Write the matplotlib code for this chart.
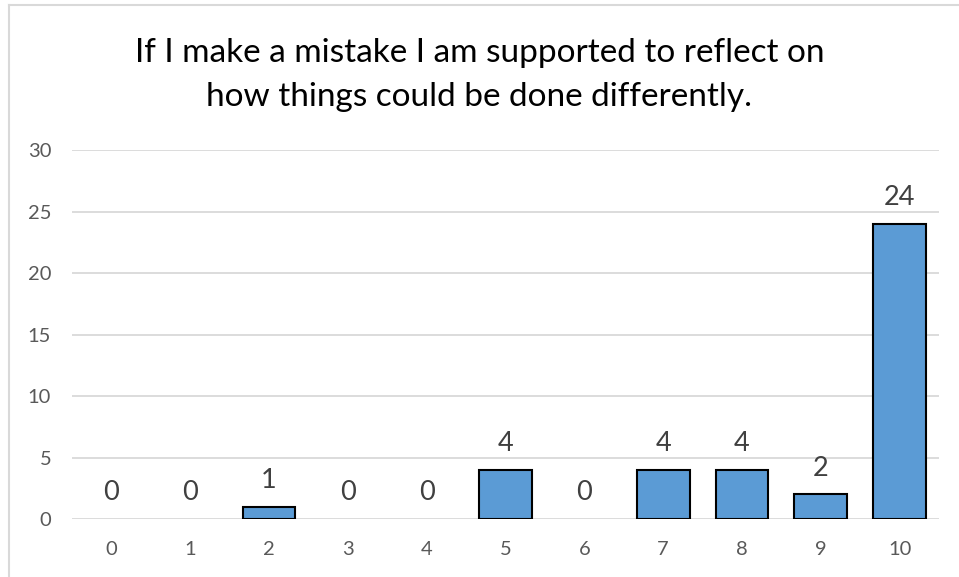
import matplotlib.pyplot as plt
from matplotlib.lines import Line2D

scores = [str(i) for i in range(11)]
counts = [0, 0, 1, 0, 0, 4, 0, 4, 4, 2, 24]
title = "If I make a mistake I am supported to reflect on\nhow things could be done differently."

plt.rcParams["font.family"] = ["Lato", "DejaVu Sans"]

fig = plt.figure(figsize=(9.59, 5.77), dpi=100)
ax = fig.add_axes([0.0751, 0.1005, 0.904, 0.6395])

x = list(range(len(scores)))
# zero-height bars are invisible in the original, so no outline for them
widths = [1.5 if c > 0 else 0 for c in counts]
ax.bar(x, counts, width=0.67, color="#5B9BD5", edgecolor="black", linewidth=widths, zorder=3)

for xi, c in zip(x, counts):
    ax.annotate(str(c), (xi, c), xytext=(0, 10), textcoords="offset points",
                ha="center", va="bottom", fontsize=19.5, color="#404040")

ax.set_xlim(-0.5, len(scores) - 0.5)
ax.set_ylim(0, 30)
ax.set_yticks(range(0, 31, 5))
ax.set_xticks(x)
ax.set_xticklabels(scores)
ax.grid(axis="y", color="#D9D9D9", linewidth=1.3, zorder=0)
for s in ax.spines.values():
    s.set_visible(False)
ax.tick_params(length=0, labelsize=14.5, labelcolor="#595959")
ax.tick_params(axis="x", pad=16)
ax.tick_params(axis="y", pad=15)

fig.text(0.5, 1 - 75 / 577, title, ha="center", va="center", fontsize=24,
         color="#000000", linespacing=1.55)

fig.add_artist(Line2D([9 / 959, 1], [1 - 5 / 577, 1 - 5 / 577], color="#D9D9D9", lw=1.5))
fig.add_artist(Line2D([9 / 959, 9 / 959], [0, 1 - 5 / 577], color="#D9D9D9", lw=1.5))

fig.savefig("out.png", dpi=100)
